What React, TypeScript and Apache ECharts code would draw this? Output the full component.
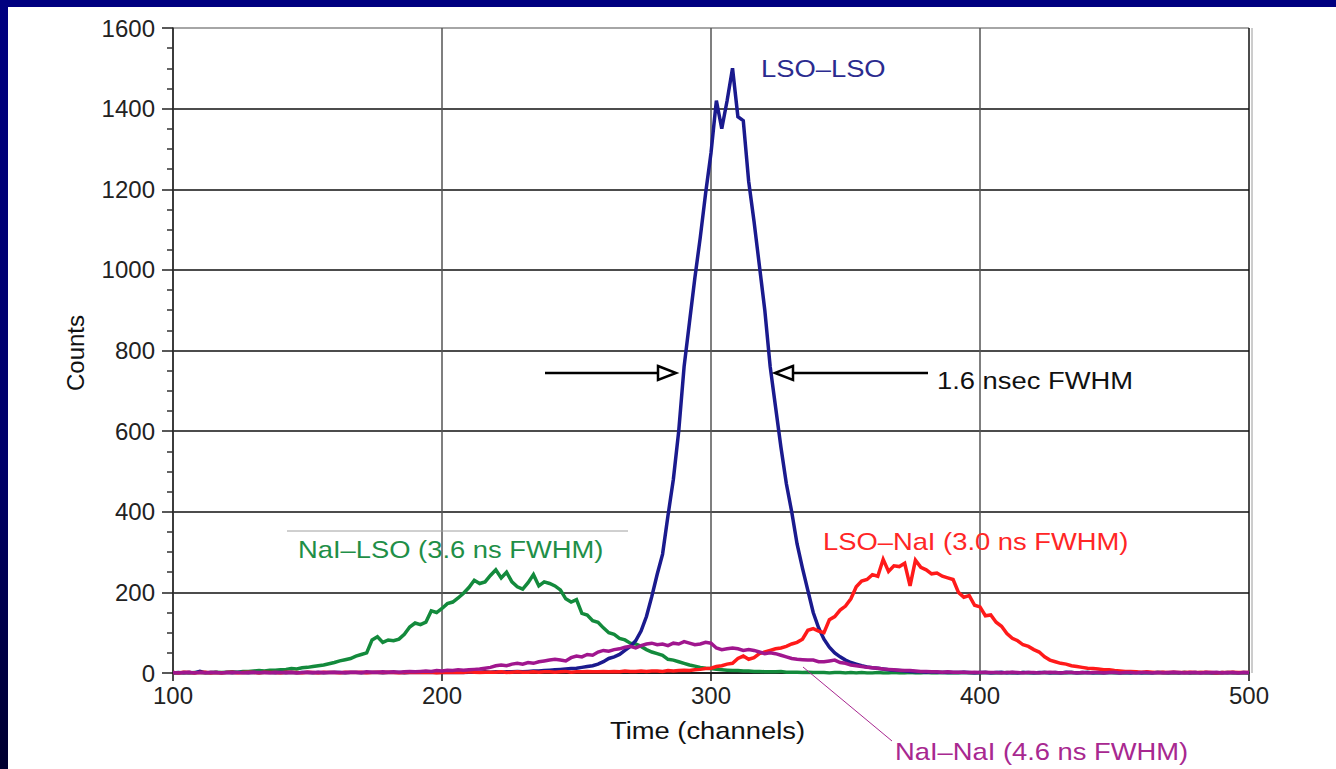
import React, { useEffect, useRef } from "react";
import * as echarts from "echarts";

// channel grid (every 2 channels from 100 to 500)
const CHANNELS: number[] = Array.from({ length: 201 }, (_, i) => 100 + 2 * i);

const X_TICKS = [100, 200, 300, 400, 500];
const Y_TICKS = [0, 200, 400, 600, 800, 1000, 1200, 1400, 1600];

// NaI–LSO (green)
const NAI_LSO = [
  0, 0, 1, 0, 1, 1, 0, 1, 2, 1,
  2, 3, 2, 4, 4, 5, 6, 5, 7, 7,
  8, 9, 11, 10, 13, 14, 16, 18, 20, 23,
  26, 30, 33, 36, 42, 46, 50, 82, 90, 76,
  82, 80, 84, 96, 114, 124, 120, 126, 154, 150,
  160, 172, 176, 186, 198, 212, 230, 222, 226, 242,
  256, 236, 250, 226, 214, 208, 224, 244, 216, 226,
  222, 216, 206, 184, 176, 182, 148, 144, 130, 126,
  112, 100, 96, 86, 82, 74, 72, 66, 58, 52,
  48, 44, 34, 32, 28, 24, 20, 17, 14, 12,
  11, 9, 8, 7, 6, 6, 5, 5, 4, 4,
  3, 3, 3, 4, 2, 2, 2, 1, 2, 1,
  1, 1, 0, 1, 1, 0, 1, 0, 1, 0,
  0, 1, 0, 0, 1, 0, 0, 1, 0, 0,
  1, 0, 0, 1, 0, 0, 0, 1, 0, 0,
  0, 1, 0, 0, 0, 1, 0, 0, 1, 0,
  0, 0, 1, 0, 0, 0, 0, 1, 0, 0,
  1, 0, 0, 0, 1, 0, 0, 0, 0, 1,
  0, 0, 0, 1, 0, 0, 0, 0, 1, 0,
  0, 1, 0, 0, 0, 0, 1, 0, 0, 0,
  0,
];

// LSO–LSO (navy)
const LSO_LSO = [
  0, 1, 0, 1, 0, 4, 1, 0, 1, 0,
  1, 0, 1, 1, 0, 1, 0, 1, 1, 0,
  1, 0, 1, 0, 1, 1, 0, 1, 0, 1,
  1, 1, 0, 1, 1, 0, 1, 1, 1, 0,
  1, 1, 1, 0, 1, 1, 2, 1, 1, 1,
  1, 2, 1, 2, 1, 2, 2, 2, 3, 2,
  3, 2, 3, 3, 4, 3, 4, 5, 5, 6,
  7, 8, 9, 10, 11, 12, 14, 16, 18, 22,
  28, 36, 40, 46, 56, 66, 80, 104, 140, 190,
  245, 295, 390, 480, 600, 760, 870, 980, 1080, 1190,
  1290, 1420, 1350, 1420, 1500, 1380, 1370, 1220, 1120, 1010,
  900, 760, 660, 560, 470, 400, 320, 260, 205, 150,
  112, 84, 64, 50, 40, 32, 26, 22, 18, 15,
  13, 12, 10, 8, 7, 6, 5, 4, 3, 3,
  2, 3, 2, 1, 2, 1, 1, 2, 1, 0,
  1, 1, 0, 1, 2, 0, 1, 0, 1, 1,
  0, 1, 1, 0, 1, 0, 2, 1, 0, 1,
  1, 0, 1, 0, 1, 1, 0, 1, 0, 1,
  0, 1, 0, 1, 1, 0, 1, 0, 1, 0,
  1, 0, 1, 0, 0, 1, 0, 1, 0, 1,
  0,
];

// LSO–NaI (red)
const LSO_NAI = [
  1, 0, 2, 1, 0, 1, 2, 0, 1, 0,
  1, 2, 0, 1, 2, 1, 0, 2, 1, 1,
  0, 2, 1, 1, 0, 2, 1, 0, 2, 1,
  1, 0, 2, 1, 1, 2, 0, 1, 2, 1,
  2, 1, 0, 2, 1, 2, 1, 1, 2, 0,
  1, 2, 1, 2, 1, 3, 2, 1, 2, 2,
  2, 3, 1, 2, 3, 2, 2, 3, 2, 3,
  3, 2, 3, 4, 2, 3, 3, 4, 3, 3,
  4, 3, 4, 3, 5, 4, 4, 5, 4, 5,
  5, 4, 6, 5, 6, 7, 6, 8, 9, 11,
  12, 16, 18, 22, 24, 36, 42, 34, 38, 48,
  52, 56, 60, 62, 66, 72, 76, 84, 106, 110,
  104, 100, 132, 140, 156, 166, 184, 214, 228, 232,
  244, 240, 282, 252, 266, 264, 272, 216, 280, 262,
  256, 246, 248, 240, 236, 232, 200, 188, 192, 168,
  164, 142, 144, 126, 116, 98, 86, 80, 70, 66,
  58, 52, 40, 32, 28, 24, 22, 18, 16, 14,
  12, 11, 10, 8, 8, 6, 5, 4, 4, 3,
  2, 3, 2, 1, 2, 1, 2, 1, 1, 2,
  1, 1, 2, 1, 0, 1, 1, 2, 1, 1,
  1,
];

// NaI–NaI (magenta)
const NAI_NAI = [
  1, 0, 1, 2, 0, 1, 0, 2, 1, 0,
  1, 2, 1, 0, 1, 2, 1, 1, 0, 2,
  1, 1, 2, 0, 1, 2, 1, 2, 1, 1,
  2, 1, 1, 2, 2, 1, 3, 2, 2, 3,
  2, 3, 2, 3, 4, 3, 4, 5, 4, 6,
  5, 7, 6, 8, 7, 8, 9, 10, 12, 14,
  18, 20, 18, 22, 24, 22, 26, 24, 28, 30,
  32, 34, 32, 30, 38, 42, 40, 46, 44, 52,
  56, 54, 58, 60, 64, 66, 62, 68, 72, 74,
  70, 72, 68, 74, 72, 78, 74, 70, 72, 76,
  74, 62, 58, 60, 62, 60, 56, 58, 56, 52,
  48, 50, 48, 44, 40, 36, 34, 33, 32, 32,
  28, 28, 30, 32, 26, 24, 20, 18, 16, 14,
  13, 12, 10, 9, 8, 7, 6, 6, 5, 4,
  4, 3, 3, 2, 3, 2, 2, 2, 1, 2,
  1, 2, 1, 1, 0, 1, 2, 1, 0, 1,
  1, 0, 1, 2, 1, 0, 1, 1, 0, 1,
  0, 1, 1, 0, 1, 2, 0, 1, 1, 0,
  1, 1, 0, 1, 0, 1, 2, 1, 0, 1,
  1, 0, 1, 1, 2, 0, 1, 1, 0, 1,
  1,
];

const FONT = "'Liberation Sans', Arial, Helvetica, sans-serif";

const pairs = (vals: number[]) => CHANNELS.map((c, i) => [c, vals[i]]);

export default function App() {
  const ref = useRef<HTMLDivElement>(null);
  useEffect(() => {
    if (!ref.current) return;
    const chart = echarts.init(ref.current, null, { renderer: "svg" });
    const sx = 1.14;
    const txt = (text: string, x: number, y: number, fill: string, extra: any = {}) => ({
      type: "text",
      x,
      y,
      scaleX: sx,
      z: 100,
      style: {
        text,
        fill,
        fontSize: 24,
        fontFamily: FONT,
        textAlign: "left",
        textVerticalAlign: "middle",
        verticalAlign: "middle",
      },
      ...extra,
    });
    const line = (x1: number, y1: number, x2: number, y2: number, stroke: string, w: number) => ({
      type: "line",
      z: 100,
      shape: { x1, y1, x2, y2 },
      style: { stroke, lineWidth: w },
    });
    const mkSeries = (name: string, vals: number[], color: string) => ({
      name,
      type: "line",
      data: pairs(vals),
      showSymbol: false,
      lineStyle: { color, width: 3.5, join: "miter" },
      itemStyle: { color },
    });
    const option: any = {
      animation: false,
      backgroundColor: "#ffffff",
      grid: { left: 173, top: 28, width: 1076, height: 645, containLabel: false },
      xAxis: {
        type: "value",
        min: X_TICKS[0],
        max: X_TICKS[X_TICKS.length - 1],
        interval: 100,
        axisLine: { show: true, onZero: false, lineStyle: { color: "#111", width: 1.5 } },
        axisTick: { show: true, length: 8, lineStyle: { color: "#111", width: 1.5 } },
        axisLabel: { fontSize: 24, color: "#222", margin: 10, fontFamily: FONT, formatter: (v: number) => String(v) },
        splitLine: {
          show: true,
          lineStyle: { color: ["#222", "#555", "#555", "#555", "#111"], width: 1.5 },
        },
      },
      yAxis: {
        type: "value",
        min: Y_TICKS[0],
        max: Y_TICKS[Y_TICKS.length - 1],
        interval: 200,
        axisLine: { show: true, lineStyle: { color: "#333", width: 1.5 } },
        axisTick: { show: true, length: 11, lineStyle: { color: "#222", width: 1.5 } },
        minorTick: { show: true, splitNumber: 4, length: 6, lineStyle: { color: "#333", width: 1.5 } },
        axisLabel: { fontSize: 24, color: "#222", margin: 18, fontFamily: FONT, formatter: (v: number) => String(v) },
        splitLine: {
          show: true,
          lineStyle: {
            color: ["#111", "#111", "#111", "#111", "#111", "#111", "#111", "#111", "#888"],
            width: 1.5,
          },
        },
      },
      series: [
        mkSeries("NaI–LSO", NAI_LSO, "#138a3c"),
        mkSeries("LSO–LSO", LSO_LSO, "#1a1a8e"),
        mkSeries("LSO–NaI", LSO_NAI, "#ff1a1a"),
        mkSeries("NaI–NaI", NAI_NAI, "#a0168e"),
      ],
      graphic: [
        // navy frame
        {
          type: "rect",
          shape: { x: 0, y: 0, width: 8, height: 769 },
          style: {
            fill: new echarts.graphic.LinearGradient(0, 0, 0, 1, [
              { offset: 0, color: "#000080" },
              { offset: 0.6, color: "#00006a" },
              { offset: 1, color: "#000030" },
            ]),
          },
          z: 100,
        },
        { type: "rect", shape: { x: 0, y: 0, width: 1336, height: 7 }, style: { fill: "#000080" }, z: 100 },
        // second right border line
        line(1252, 28, 1252, 673, "#9a9a9a", 1),
        // annotations
        txt("LSO–LSO", 761, 69, "#2b2b8f"),
        txt("1.6 nsec FWHM", 937, 381, "#111111"),
        txt("NaI–LSO (3.6 ns FWHM)", 298, 550, "#1f8f48"),
        txt("LSO–NaI (3.0 ns FWHM)", 823, 542, "#ff2626"),
        txt("NaI–NaI (4.6 ns FWHM)", 895, 752, "#a82890"),
        txt("Time (channels)", 610, 731, "#111111"),
        {
          type: "text",
          x: 75,
          y: 353,
          rotation: Math.PI / 2,
          z: 100,
          style: {
            text: "Counts",
            fill: "#111111",
            fontSize: 24,
            fontFamily: FONT,
            textAlign: "center",
            textVerticalAlign: "middle",
            verticalAlign: "middle",
          },
        },
        // gray rule above NaI–LSO label
        line(287, 531, 628, 531, "#a0a0a0", 1),
        // leader line for NaI–NaI
        line(803, 667, 892, 741, "#a82890", 1),
        // FWHM arrows
        line(545, 373, 660, 373, "#000", 2.5),
        {
          type: "polygon",
          z: 101,
          shape: { points: [[658, 366], [676, 373], [658, 380]] },
          style: { fill: "#fff", stroke: "#000", lineWidth: 2.5 },
        },
        line(792, 373, 928, 373, "#000", 2.5),
        {
          type: "polygon",
          z: 101,
          shape: { points: [[793, 366], [775, 373], [793, 380]] },
          style: { fill: "#fff", stroke: "#000", lineWidth: 2.5 },
        },
      ],
    };
    chart.setOption(option);
    return () => chart.dispose();
  }, []);
  return (
    <div
      ref={ref}
      style={{ position: "absolute", left: 0, top: 0, width: 1336, height: 769, background: "#fff" }}
    />
  );
}
